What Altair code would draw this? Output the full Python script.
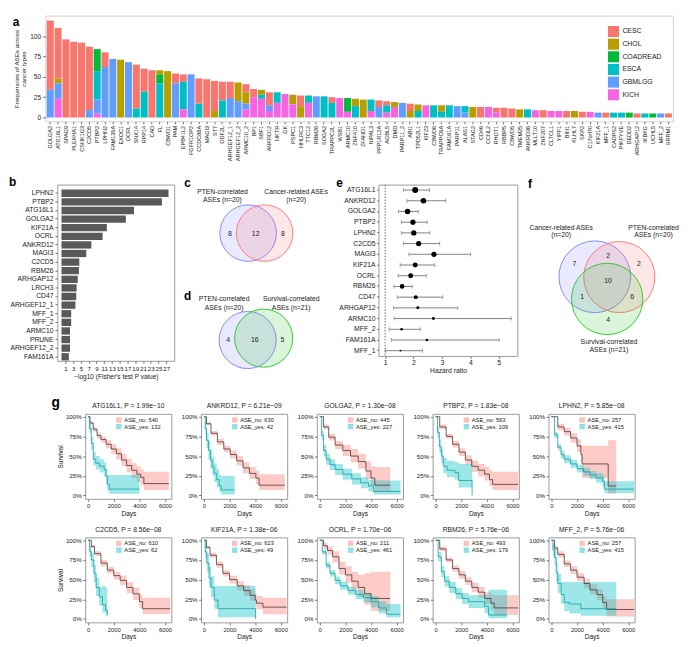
import altair as alt
import pandas as pd

FONT = "Liberation Sans"
TXT = "#1a1a1a"

# ---------------- panel a ----------------
genes_a = ["GOLGA2","ATG16L1","SPAG9","PLEKHA1","CSNK1G3","C2CD5","PTBP2","LPHN2","FAM135A","EXOC1",
           "OCRL","SNX14","RPP14","CAD","FL","CBWD1","PAM","EPB41L2","FGFR1OP2","CCDC88A",
           "MAGI3","ST7","ODF2L","ARHGEF12_1","ARHGEF12_2","ARMC10_2","BP1","SBF1","ANKRD12","NKTR",
           "GK","PSPC1","NHLRC3","TTC12","RBM26","SOGA2","TRAPPC2L","WSB1","ARMC10","ZNF410",
           "ZFAND1","NIPAL3","PPP1R12A","AGBL5","DMD","PARP11_2","ABI1","TPD52L1","KIF23","CBWD6",
           "TRAPPC6A","FAM161A","PARP11","ALAS1","STAG2","CD46","CCNL2","RHOT1","RBBP5","CBWD5",
           "TMEM25","ANKRD36","MLLT10","ZNF207","CLTCL1","YIPF1","BIN1","KLHL7","SKP2","C17orf70",
           "KIF21A","MFF_1","CADPS2","PIKFYVE","DEDD2","ARHGAP12","IKBKG","UCHL5","MFF_2","SRRM1"]
cancer_types = ["CESC", "CHOL", "COADREAD", "ESCA", "GBMLGG", "KICH"]
cancer_colors = ["#F8766D", "#B79F00", "#00BA38", "#00BFC4", "#619CFF", "#F564E3"]
stack_rank = {"KICH": 0, "GBMLGG": 1, "ESCA": 2, "COADREAD": 3, "CHOL": 4, "CESC": 5}

freq_CESC = [85,62,96,93,92,78,0,18,0,0, 0,54,28,58,0,0,12,9,0,31, 47,37,23,20,0,10,10,0,16,0,
             0,0,13,0,0,0,7,0,0,0, 0,0,8,5,0,0,9,0,0,0, 0,0,0,0,0,13,0,6,12,11,
             0,0,0,9,0,0,8,0,7,0, 0,6,0,0,0,5,0,0,0,5]
freq_CHOL = [0,6,0,0,0,0,0,0,0,71, 0,0,0,0,5,57,0,0,0,0, 0,8,0,0,23,14,0,6,0,0,
             0,12,14,0,0,0,0,0,0,9, 22,0,0,0,6,0,8,8,0,0, 8,0,0,0,13,0,0,0,0,0,
             10,0,0,0,0,0,0,8,0,0, 0,0,0,0,0,0,0,0,0,0]
freq_COADREAD = [0,0,0,0,0,0,27,0,0,0, 0,0,0,0,11,0,0,0,0,0, 0,0,0,0,0,0,0,0,0,0,
                 0,0,0,0,0,0,0,0,17,0, 0,0,0,0,0,0,0,0,0,0, 0,0,0,0,0,0,0,0,0,0,
                 0,0,0,0,0,0,0,0,0,0, 0,0,0,0,6,0,0,5,0,0]
freq_ESCA = [0,0,0,0,0,0,35,0,0,0, 0,11,32,0,42,0,0,34,0,17, 0,0,21,0,0,0,0,5,0,13,
             0,0,0,9,0,26,18,0,0,14, 0,14,0,9,0,0,0,8,0,15, 7,15,0,8,0,0,0,0,0,0,
             0,10,0,0,0,0,0,0,0,0, 0,0,6,6,0,0,5,0,0,0]
freq_GBMLGG = [34,19,0,0,0,9,17,62,72,0, 68,0,0,0,0,0,42,0,53,0, 0,0,0,24,20,7,0,0,7,0,
               0,0,0,0,26,0,0,0,0,0, 0,0,13,0,0,18,0,0,0,0, 0,0,14,6,0,0,0,0,0,0,
               0,0,0,0,0,0,0,0,0,0, 6,0,0,0,0,0,0,0,5,0]
freq_KICH = [0,23,0,0,0,0,5,0,0,0, 0,0,0,0,0,0,0,10,0,0, 0,0,0,0,0,10,25,23,8,18,
             29,16,0,18,0,0,0,24,7,0, 0,8,0,6,13,0,0,0,15,0, 0,0,0,0,0,0,13,6,0,0,
             0,0,9,0,8,8,0,0,0,7, 0,0,0,0,0,0,0,0,0,0]

# ---------------- panel b ----------------
b_genes = ["LPHN2","PTBP2","ATG16L1","GOLGA2","KIF21A","OCRL","ANKRD12","MAGI3","C2CD5","RBM26",
           "ARHGAP12","LRCH3","CD47","ARHGEF12_1","MFF_1","MFF_2","ARMC10","PRUNE","ARHGEF12_2","FAM161A"]
b_vals = [27.6, 25.9, 18.7, 16.6, 11.7, 10.6, 7.7, 6.4, 4.6, 4.5, 4.2, 3.9, 3.8, 3.6, 2.5, 2.5, 2.2, 2.2, 2.2, 1.9]

# ---------------- panels c, d (Venn) ----------------
cd_circle_x = [74.0, 90.7, 73.5, 89.7]
cd_circle_y = [49.0, 49.0, 157.2, 155.3]
cd_circle_r = [28.6, 28.6, 28.9, 29.4]
cd_circle_col = ["#7d7dff", "#ff7070", "#7d7dff", "#22c422"]
cd_label_text = ["PTEN-correlated", "ASEs (n=20)", "Cancer-related ASEs", "(n=20)",
                 "PTEN-correlated", "ASEs (n=20)", "Survival-correlated", "ASEs (n=21)"]
cd_label_x = [48, 48, 122.5, 122.5, 49.7, 49.7, 117.6, 117.6]
cd_label_y = [7, 15.4, 7, 15.4, 115.8, 124.6, 115.8, 124.6]
cd_count_text = ["8", "12", "8", "4", "16", "5"]
cd_count_x = [55.6, 81.6, 109.1, 53.9, 80.7, 108.8]
cd_count_y = [50.4, 50.4, 50.4, 157.2, 157.2, 157.2]

# ---------------- panel e (forest) ----------------
e_genes = ["ATG16L1","ANKRD12","GOLGA2","PTBP2","LPHN2","C2CD5","MAGI3","KIF21A","OCRL","RBM26",
           "CD47","ARHGAP12","ARMC10","MFF_2","FAM161A","MFF_1"]
e_hr = [2.06, 2.35, 1.79, 1.98, 2.01, 2.18, 2.72, 2.06, 1.90, 1.60, 2.08, 2.15, 2.70, 1.58, 2.47, 1.54]
e_lo = [1.65, 1.77, 1.47, 1.57, 1.57, 1.65, 1.84, 1.53, 1.46, 1.31, 1.43, 1.30, 1.32, 1.14, 1.22, 1.01]
e_hi = [2.56, 3.13, 2.17, 2.48, 2.57, 2.92, 4.01, 2.75, 2.45, 1.96, 3.03, 3.56, 5.44, 2.24, 5.02, 2.32]
e_size = [36, 32, 32, 28, 28, 28, 28, 25, 25, 22, 16, 9, 9, 7, 7, 3]
e_ref_hr = [1]

# ---------------- panel f (3-way Venn) ----------------
f_circle_x = [77.8, 102.6, 90.3]
f_circle_y = [93.2, 93.5, 115.6]
f_circle_r = [36.3, 36.0, 36.1]
f_circle_col = ["#7d7dff", "#ff7070", "#22c422"]
f_label_text = ["Cancer-related ASEs", "(n=20)", "PTEN-correlated", "ASEs (n=20)", "Survival-correlated", "ASEs (n=21)"]
f_label_x = [43.8, 43.8, 137.2, 137.2, 92.1, 92.1]
f_label_y = [43.9, 51.1, 43.9, 51.1, 158.9, 167.0]
f_count_text = ["7", "2", "2", "10", "1", "6", "4"]
f_count_x = [57.2, 91.2, 122.5, 91.2, 65.0, 115.7, 91.2]
f_count_y = [79.8, 72.6, 79.8, 97.8, 113.8, 113.8, 136.9]

# ---------------- panel g (Kaplan-Meier) ----------------
km_titles = ["ATG16L1, P = 1.99e\u221210", "ANKRD12, P = 6.21e\u221209", "GOLGA2, P = 1.30e\u221208",
             "PTBP2, P = 1.83e\u221208", "LPHN2, P = 5.85e\u221208", "C2CD5, P = 8.56e\u221208",
             "KIF21A, P = 1.38e\u221206", "OCRL, P = 1.70e\u221206", "RBM26, P = 5.76e\u221206",
             "MFF_2, P = 5.76e\u221206"]
km_n_no = [540, 630, 445, 563, 257, 610, 623, 211, 493, 257]
km_n_yes = [132, 42, 227, 109, 415, 62, 49, 461, 179, 415]

km_no_t = [
    [0, 150, 400, 700, 1000, 1400, 1800, 2200, 2600, 3000, 3400, 3800, 4100, 4350, 6300],
    [0, 200, 550, 1050, 1550, 2050, 2550, 3050, 3550, 4050, 4300, 6300],
    [0, 300, 700, 1200, 1800, 2400, 3000, 3600, 4000, 4300, 5500],
    [0, 325, 825, 1325, 1825, 2325, 2825, 3325, 3825, 4200, 4450, 6450],
    [0, 500, 1000, 1500, 2000, 2300, 2400, 4430, 5060],
    [0, 250, 500, 1000, 1500, 2000, 2500, 3000, 3500, 4000, 4250, 6400],
    [0, 200, 475, 975, 1475, 2000, 2600, 3100, 3600, 4000, 4100, 4600, 6450],
    [0, 300, 600, 1000, 1500, 2000, 2500, 3000, 3500, 4000, 5500],
    [0, 325, 825, 1325, 1825, 2325, 2825, 3325, 3825, 4325, 4575, 6450],
    [0, 250, 500, 1000, 1500, 2000, 2550, 3000, 3550, 4000, 4300, 6450],
]
km_no_S = [
    [1.00, 0.92, 0.84, 0.76, 0.71, 0.65, 0.59, 0.53, 0.45, 0.38, 0.32, 0.27, 0.23, 0.15, 0.15],
    [1.00, 0.91, 0.79, 0.68, 0.59, 0.52, 0.44, 0.35, 0.28, 0.22, 0.13, 0.13],
    [1.00, 0.87, 0.74, 0.64, 0.57, 0.50, 0.43, 0.31, 0.22, 0.13, 0.13],
    [1.00, 0.87, 0.75, 0.65, 0.55, 0.45, 0.37, 0.32, 0.27, 0.20, 0.14, 0.14],
    [1.00, 0.87, 0.81, 0.73, 0.63, 0.52, 0.40, 0.12, 0.12],
    [1.00, 0.92, 0.83, 0.71, 0.62, 0.55, 0.49, 0.40, 0.32, 0.22, 0.13, 0.13],
    [1.00, 0.91, 0.81, 0.69, 0.58, 0.50, 0.42, 0.36, 0.30, 0.24, 0.20, 0.15, 0.15],
    [1.00, 0.93, 0.87, 0.79, 0.64, 0.56, 0.48, 0.40, 0.32, 0.26, 0.26],
    [1.00, 0.89, 0.75, 0.64, 0.56, 0.48, 0.40, 0.34, 0.26, 0.20, 0.14, 0.14],
    [1.00, 0.90, 0.82, 0.70, 0.62, 0.53, 0.45, 0.37, 0.31, 0.21, 0.12, 0.12],
]
km_no_lo = [
    [1.00, 0.90, 0.81, 0.72, 0.67, 0.60, 0.53, 0.46, 0.37, 0.29, 0.22, 0.17, 0.13, 0.07, 0.07],
    [1.00, 0.89, 0.76, 0.64, 0.55, 0.47, 0.38, 0.28, 0.21, 0.14, 0.07, 0.07],
    [1.00, 0.84, 0.70, 0.59, 0.50, 0.42, 0.34, 0.21, 0.12, 0.05, 0.05],
    [1.00, 0.84, 0.72, 0.61, 0.50, 0.39, 0.30, 0.24, 0.19, 0.12, 0.07, 0.07],
    [1.00, 0.83, 0.76, 0.67, 0.55, 0.42, 0.22, 0.02, 0.02],
    [1.00, 0.90, 0.80, 0.67, 0.58, 0.50, 0.43, 0.33, 0.24, 0.14, 0.06, 0.06],
    [1.00, 0.89, 0.78, 0.65, 0.54, 0.45, 0.36, 0.29, 0.23, 0.16, 0.12, 0.06, 0.06],
    [1.00, 0.89, 0.82, 0.72, 0.56, 0.46, 0.37, 0.28, 0.18, 0.10, 0.10],
    [1.00, 0.86, 0.72, 0.60, 0.51, 0.43, 0.34, 0.27, 0.19, 0.12, 0.05, 0.05],
    [1.00, 0.87, 0.78, 0.66, 0.57, 0.48, 0.39, 0.31, 0.24, 0.14, 0.03, 0.03],
]
km_no_hi = [
    [1.00, 0.94, 0.87, 0.80, 0.75, 0.70, 0.65, 0.60, 0.53, 0.47, 0.41, 0.37, 0.33, 0.30, 0.30],
    [1.00, 0.93, 0.82, 0.72, 0.63, 0.57, 0.50, 0.42, 0.36, 0.31, 0.27, 0.27],
    [1.00, 0.90, 0.78, 0.69, 0.64, 0.59, 0.53, 0.43, 0.37, 0.36, 0.36],
    [1.00, 0.90, 0.78, 0.69, 0.60, 0.51, 0.44, 0.40, 0.36, 0.32, 0.30, 0.30],
    [1.00, 0.91, 0.86, 0.79, 0.71, 0.64, 0.63, 0.70, 0.70],
    [1.00, 0.94, 0.86, 0.75, 0.66, 0.60, 0.55, 0.47, 0.40, 0.31, 0.27, 0.27],
    [1.00, 0.93, 0.84, 0.73, 0.62, 0.55, 0.48, 0.43, 0.38, 0.32, 0.29, 0.27, 0.27],
    [1.00, 0.97, 0.92, 0.86, 0.73, 0.67, 0.60, 0.56, 0.58, 0.60, 0.60],
    [1.00, 0.92, 0.78, 0.68, 0.61, 0.53, 0.46, 0.41, 0.34, 0.30, 0.30, 0.30],
    [1.00, 0.93, 0.86, 0.74, 0.67, 0.58, 0.51, 0.44, 0.38, 0.29, 0.25, 0.25],
]
km_yes_t = [
    [0, 100, 250, 400, 600, 900, 1250, 1400, 1500, 1650, 4000],
    [0, 100, 200, 350, 500, 650, 800, 1000, 1200, 1350, 2400],
    [0, 150, 300, 500, 800, 1200, 1800, 2500, 3200, 3800, 4200, 6300],
    [0, 150, 300, 450, 600, 900, 1500, 1800, 2850],
    [0, 250, 500, 750, 1000, 1500, 2000, 2500, 3000, 3500, 4000, 4130, 6450],
    [0, 120, 250, 450, 620, 870, 1120, 1370, 1500],
    [0, 100, 225, 400, 550, 800, 1100, 4030],
    [0, 200, 500, 800, 1200, 1600, 2200, 2800, 3400, 4000, 4600, 5200, 6300],
    [0, 200, 450, 700, 1075, 1575, 2075, 2575, 3825, 4125, 5575],
    [0, 120, 250, 380, 500, 760, 1010, 1400, 2300, 5060],
]
km_yes_S = [
    [1.00, 0.85, 0.66, 0.46, 0.41, 0.37, 0.33, 0.24, 0.14, 0.08, 0.08],
    [1.00, 0.85, 0.70, 0.57, 0.45, 0.36, 0.28, 0.20, 0.12, 0.07, 0.07],
    [1.00, 0.76, 0.57, 0.46, 0.39, 0.33, 0.27, 0.21, 0.16, 0.12, 0.05, 0.05],
    [1.00, 0.80, 0.62, 0.50, 0.37, 0.32, 0.29, 0.19, 0.00],
    [1.00, 0.77, 0.61, 0.52, 0.46, 0.40, 0.34, 0.30, 0.26, 0.22, 0.18, 0.08, 0.08],
    [1.00, 0.86, 0.75, 0.58, 0.40, 0.28, 0.18, 0.11, 0.05],
    [1.00, 0.85, 0.71, 0.52, 0.40, 0.24, 0.13, 0.00],
    [1.00, 0.85, 0.68, 0.58, 0.49, 0.42, 0.36, 0.31, 0.27, 0.22, 0.14, 0.06, 0.06],
    [1.00, 0.79, 0.60, 0.48, 0.40, 0.32, 0.26, 0.22, 0.16, 0.05, 0.05],
    [1.00, 0.88, 0.78, 0.59, 0.45, 0.31, 0.21, 0.19, 0.13, 0.13],
]
km_yes_lo = [
    [1.00, 0.79, 0.58, 0.38, 0.33, 0.29, 0.24, 0.15, 0.06, 0.02, 0.02],
    [1.00, 0.78, 0.60, 0.46, 0.34, 0.25, 0.17, 0.10, 0.04, 0.01, 0.01],
    [1.00, 0.70, 0.50, 0.39, 0.32, 0.26, 0.20, 0.14, 0.09, 0.05, 0.01, 0.01],
    [1.00, 0.73, 0.54, 0.41, 0.28, 0.23, 0.20, 0.10, 0.00],
    [1.00, 0.73, 0.57, 0.47, 0.41, 0.35, 0.29, 0.25, 0.21, 0.16, 0.11, 0.03, 0.03],
    [1.00, 0.79, 0.66, 0.47, 0.29, 0.17, 0.08, 0.03, 0.01],
    [1.00, 0.76, 0.60, 0.40, 0.28, 0.13, 0.02, 0.00],
    [1.00, 0.82, 0.64, 0.54, 0.44, 0.37, 0.31, 0.25, 0.21, 0.15, 0.07, 0.02, 0.02],
    [1.00, 0.73, 0.53, 0.41, 0.33, 0.25, 0.19, 0.14, 0.07, 0.01, 0.01],
    [1.00, 0.80, 0.68, 0.48, 0.33, 0.19, 0.10, 0.07, 0.04, 0.04],
]
km_yes_hi = [
    [1.00, 0.91, 0.74, 0.55, 0.50, 0.46, 0.42, 0.34, 0.26, 0.26, 0.26],
    [1.00, 0.93, 0.80, 0.69, 0.58, 0.49, 0.41, 0.33, 0.26, 0.25, 0.25],
    [1.00, 0.82, 0.64, 0.53, 0.46, 0.40, 0.34, 0.28, 0.23, 0.20, 0.19, 0.19],
    [1.00, 0.87, 0.71, 0.59, 0.48, 0.44, 0.42, 0.40, 0.00],
    [1.00, 0.81, 0.65, 0.57, 0.51, 0.45, 0.39, 0.35, 0.31, 0.28, 0.26, 0.18, 0.18],
    [1.00, 0.93, 0.84, 0.69, 0.52, 0.41, 0.42, 0.40, 0.40],
    [1.00, 0.94, 0.83, 0.66, 0.55, 0.42, 0.42, 0.00],
    [1.00, 0.88, 0.72, 0.62, 0.54, 0.47, 0.41, 0.37, 0.33, 0.29, 0.22, 0.19, 0.19],
    [1.00, 0.85, 0.67, 0.55, 0.47, 0.39, 0.33, 0.30, 0.30, 0.37, 0.37],
    [1.00, 0.96, 0.88, 0.70, 0.57, 0.47, 0.47, 0.47, 0.47, 0.47],
]

# =============== helpers ===============
one = pd.DataFrame({"k": [0]})
LEFT = 36.3
NOSTROKE = alt.ViewBackground(stroke="transparent")


def anchor(top, bottom):
    return alt.Chart(one).mark_rule(opacity=0).encode(
        x=alt.value(-LEFT), y=alt.value(-top), y2=alt.value(bottom))


def letter(ch, x, y, size=12):
    return alt.Chart(one).mark_text(text=ch, fontSize=size, fontWeight="bold", color="black",
                                    align="center", baseline="middle", font=FONT).encode(
        x=alt.value(x), y=alt.value(y))


def indep(c):
    return c.resolve_scale(color="independent", fill="independent", stroke="independent",
                           size="independent")


# =============== panel a ===============
rows = []
counts = dict(zip(cancer_types, [freq_CESC, freq_CHOL, freq_COADREAD, freq_ESCA, freq_GBMLGG, freq_KICH]))
for i, g in enumerate(genes_a):
    for ct in cancer_types:
        v = counts[ct][i]
        if v > 0:
            rows.append({"gene": g, "cancer": ct, "n": v, "ord": stack_rank[ct]})
dfa = pd.DataFrame(rows)

WA, HA = 635, 107
a_bars = alt.Chart(dfa).mark_bar().encode(
    x=alt.X("gene:N", sort=genes_a, scale=alt.Scale(paddingInner=0.1, paddingOuter=0.15),
            axis=alt.Axis(title=None, labelAngle=-90, labelFontSize=5.6, labelPadding=1.5, tickSize=2.5)),
    y=alt.Y("n:Q", stack="zero", scale=alt.Scale(domain=[-4.8, 125], nice=False, zero=False),
            axis=alt.Axis(values=[0, 25, 50, 75, 100], title=["Frequencies of ASEs across", "cancer types"],
                          labelFontSize=6.6, titleFontSize=6.3, tickSize=3, labelPadding=2,
                          titlePadding=3, titleLineHeight=7.5)),
    color=alt.Color("cancer:N", scale=alt.Scale(domain=cancer_types, range=cancer_colors),
                    legend=alt.Legend(title=None, orient="none", legendX=568.7, legendY=10,
                                      symbolType="square", symbolSize=125, symbolStrokeWidth=0,
                                      labelFontSize=7, padding=0, rowPadding=0.8, labelOffset=3)),
    order=alt.Order("ord:Q", sort="ascending"),
)
chart_a = alt.layer(a_bars, anchor(2.9, 159.0), letter("a", -29.9, 6.9)).properties(
    width=WA, height=HA, view=alt.ViewBackground(stroke="#cccccc"))

# =============== row 2 ===============
H2 = 178.3
spacer2 = alt.layer(anchor(10, 210.2), letter("b", -33.4, -3)).properties(width=12, height=H2, view=NOSTROKE)

dfb = pd.DataFrame({"gene": b_genes, "v": b_vals, "z": [0] * len(b_vals)})
chart_b = alt.Chart(dfb).mark_bar(color="#595959").encode(
    y=alt.Y("gene:N", sort=b_genes,
            scale=alt.Scale(paddingInner=0.15, paddingOuter=0.315, align=0.91),
            axis=alt.Axis(title=None, labelFontSize=6.8, tickSize=2.5, labelPadding=2)),
    x=alt.X("z:Q", scale=alt.Scale(domain=[-1.05, 29.1], nice=False, zero=False),
            axis=alt.Axis(values=list(range(1, 28, 2)), title="\u2212log10 (Fisher's test P value)",
                          labelFontSize=6.2, titleFontSize=6.6, tickSize=2.5, labelPadding=2,
                          titlePadding=2, labelOverlap=False)),
    x2="v:Q",
).properties(width=118.3, height=H2)


def venn_chart(W, H, cx, cy, cr, ccol, lt, lx, ly, nt, nx, ny, letters):
    xs = alt.Scale(domain=[0, W], nice=False, zero=False)
    ys = alt.Scale(domain=[0, H], nice=False, zero=False, reverse=True)
    dc = pd.DataFrame({"x": cx, "y": cy, "sz": [(2 * r) ** 2 for r in cr], "col": ccol})
    circ = alt.Chart(dc).mark_point(shape="circle", filled=True, opacity=1, fillOpacity=0.17,
                                    strokeOpacity=0.9, strokeWidth=1).encode(
        x=alt.X("x:Q", scale=xs, axis=None), y=alt.Y("y:Q", scale=ys, axis=None),
        size=alt.Size("sz:Q", scale=None),
        fill=alt.Fill("col:N", scale=None), stroke=alt.Stroke("col:N", scale=None))
    dl = pd.DataFrame({"x": lx, "y": ly, "t": lt})
    labs = alt.Chart(dl).mark_text(fontSize=6.9, color=TXT, font=FONT, baseline="middle").encode(
        x=alt.X("x:Q", scale=xs, axis=None), y=alt.Y("y:Q", scale=ys, axis=None), text="t:N")
    dn = pd.DataFrame({"x": nx, "y": ny, "t": nt})
    nums = alt.Chart(dn).mark_text(fontSize=7, color=TXT, font=FONT, baseline="middle").encode(
        x=alt.X("x:Q", scale=xs, axis=None), y=alt.Y("y:Q", scale=ys, axis=None), text="t:N")
    layers = [circ, labs, nums] + [letter(c, x, y) for c, x, y in letters]
    return alt.layer(*layers).properties(width=W, height=H, view=NOSTROKE)


chart_cd = venn_chart(205.1, H2, cd_circle_x, cd_circle_y, cd_circle_r, cd_circle_col,
                      cd_label_text, cd_label_x, cd_label_y, cd_count_text, cd_count_x, cd_count_y,
                      [("c", 12.7, -1.5), ("d", 12.7, 113.1)])

dfe = pd.DataFrame({"gene": e_genes, "hr": e_hr, "lo": e_lo, "hi": e_hi, "sz": e_size})
dfe_ref = pd.DataFrame({"hr": e_ref_hr})
ye = alt.Y("gene:N", sort=e_genes, scale=alt.Scale(paddingInner=0, paddingOuter=0),
           axis=alt.Axis(title=None, labelFontSize=6.9, tickSize=2, labelPadding=1.5))
xse = alt.Scale(domain=[0.77, 5.66], nice=False, zero=False)
xae = alt.Axis(values=[1, 2, 3, 4, 5], title="Hazard ratio", labelFontSize=6.9, titleFontSize=6.9,
               tickSize=2.5, labelPadding=1.5, titlePadding=2, labelOverlap=False)
e_ref = alt.Chart(dfe_ref).mark_rule(color="#444444", strokeDash=[1.5, 1.5], strokeWidth=0.8).encode(
    x=alt.X("hr:Q", scale=xse, axis=xae))
e_rule = alt.Chart(dfe).mark_rule(color="#7f7f7f", strokeWidth=1).encode(
    y=ye, x=alt.X("lo:Q", scale=xse, axis=xae), x2="hi:Q")
e_cap1 = alt.Chart(dfe).mark_tick(color="#7f7f7f", thickness=1, size=4).encode(
    y=ye, x=alt.X("lo:Q", scale=xse, axis=xae))
e_cap2 = alt.Chart(dfe).mark_tick(color="#7f7f7f", thickness=1, size=4).encode(
    y=ye, x=alt.X("hi:Q", scale=xse, axis=xae))
e_pts = alt.Chart(dfe).mark_circle(color="black", opacity=1).encode(
    y=ye, x=alt.X("hr:Q", scale=xse, axis=xae), size=alt.Size("sz:Q", scale=None))
chart_e = alt.layer(e_rule, e_cap1, e_cap2, e_ref, e_pts, letter("e", -39.5, -1.5)).properties(
    width=140.5, height=173.4)

chart_f = venn_chart(160, H2, f_circle_x, f_circle_y, f_circle_r, f_circle_col,
                     f_label_text, f_label_x, f_label_y, f_count_text, f_count_x, f_count_y,
                     [("f", 12.1, -1)])

row2 = indep(alt.hconcat(spacer2, chart_b, chart_cd, chart_e, chart_f, spacing=0, bounds="flush"))


# =============== row G ===============
def km_chart(i, first_col):
    lab_no = f"ASE_no: {km_n_no[i]}"
    lab_yes = f"ASE_yes: {km_n_yes[i]}"
    recs = []
    for lab, T, S, L, Hh in ((lab_no, km_no_t[i], km_no_S[i], km_no_lo[i], km_no_hi[i]),
                             (lab_yes, km_yes_t[i], km_yes_S[i], km_yes_lo[i], km_yes_hi[i])):
        for t, s, lo, hi in zip(T, S, L, Hh):
            recs.append({"t": t, "s": s, "lo": lo, "hi": hi, "grp": lab})
    df = pd.DataFrame(recs)
    xs = alt.Scale(domain=[-220, 6500], nice=False, zero=False)
    ys = alt.Scale(domain=[-0.045, 1.035], nice=False, zero=False)
    xax = alt.Axis(values=[0, 2000, 4000, 6000], format="d", title="Days", labelFontSize=6,
                   titleFontSize=6.6, tickSize=2.5, labelPadding=1.5, titlePadding=1.5, labelOverlap=False)
    yargs = dict(values=[0, 0.25, 0.5, 0.75, 1], format=".0%", labelFontSize=6.3, tickSize=2.5,
                 labelPadding=1.5, labelOverlap=False)
    if first_col:
        yax = alt.Axis(title="Survival", titleFontSize=6.6, titlePadding=2, **yargs)
    else:
        yax = alt.Axis(title=None, **yargs)
    band = alt.Chart(df).mark_area(interpolate="step-after", opacity=0.38).encode(
        x=alt.X("t:Q", scale=xs, axis=xax), y=alt.Y("lo:Q", scale=ys, axis=yax), y2="hi:Q",
        color=alt.Color("grp:N", scale=alt.Scale(domain=[lab_no, lab_yes], range=["#F8766D", "#00BFC4"]),
                        legend=alt.Legend(title=None, orient="none", legendX=31, legendY=3,
                                          symbolType="square", symbolSize=30, symbolOpacity=0.45,
                                          symbolStrokeWidth=0, labelFontSize=5.8, labelOffset=2.5,
                                          rowPadding=0.8, padding=0)))
    line = alt.Chart(df).mark_line(interpolate="step-after", strokeWidth=0.8).encode(
        x=alt.X("t:Q", scale=xs, axis=xax), y=alt.Y("s:Q", scale=ys, axis=yax),
        stroke=alt.Stroke("grp:N", scale=alt.Scale(domain=[lab_no, lab_yes], range=["#4a3636", "#139fa3"]),
                          legend=None),
        detail="grp:N")
    return alt.layer(band, line).properties(
        width=87.2, height=86,
        title=alt.TitleParams(km_titles[i], fontSize=6.8, fontWeight="normal", anchor="middle",
                              offset=4, color=TXT, font=FONT))


spacerG1 = alt.layer(anchor(20, 109.5), letter("g", 10.3, -10.7, 14)).properties(
    width=10.25, height=86, view=NOSTROKE)
spacerG2 = alt.layer(anchor(14, 95)).properties(width=10.25, height=86, view=NOSTROKE)

rowG1 = indep(alt.hconcat(spacerG1, *[km_chart(i, i == 0) for i in range(5)], spacing=29.2, bounds="flush"))
rowG2 = indep(alt.hconcat(spacerG2, *[km_chart(i, i == 5) for i in range(5, 10)], spacing=29.2, bounds="flush"))

chart = indep(alt.vconcat(chart_a, row2, rowG1, rowG2, spacing=0)).properties(padding=0)
chart = chart.configure_axis(
    grid=False, domain=False, labelFont=FONT, titleFont=FONT, labelColor=TXT, titleColor=TXT,
    tickColor="#555555", tickWidth=0.8, titleFontWeight="normal"
).configure_legend(labelFont=FONT, labelColor=TXT).configure_view(
    stroke="#8f8f8f", strokeWidth=0.9
).configure_title(font=FONT)

chart.save("out.html", embed_options={"renderer": "svg", "actions": False})
